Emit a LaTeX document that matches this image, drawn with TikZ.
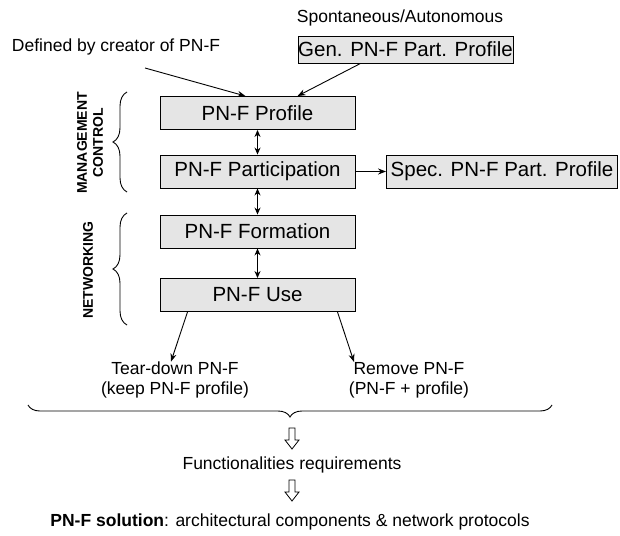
\documentclass[tikz,border=0pt]{standalone}
\usepackage{fontspec}
\setmainfont{Liberation Sans}
\usetikzlibrary{arrows.meta,decorations.pathreplacing,calc}
\begin{document}
\begin{tikzpicture}[x=1pt,y=-1pt,
  boxnode/.style={draw=black,line width=0.9pt,fill=gray!20,inner sep=0pt,
    font=\fontsize{20.5}{24}\selectfont},
  lbl/.style={font=\fontsize{17.5}{20}\selectfont,inner sep=0pt,align=center},
  vlbl/.style={font=\bfseries\fontsize{14}{16}\selectfont,rotate=90,inner sep=0pt,align=center},
  arr/.style={line width=0.9pt,-{Stealth[length=8pt,width=6pt]}},
  darr/.style={line width=0.9pt,{Stealth[length=7pt,width=6pt]}-{Stealth[length=7pt,width=6pt]}},
  brc/.style={line width=0.9pt,decorate,decoration={brace,amplitude=#1}},
  hollow/.style={draw=black,line width=0.8pt,fill=white}
]
\useasboundingbox (0,0) rectangle (620,535);

% top labels and boxes
\node[lbl] (spont) at (400,18) {Spontaneous/Autonomous};
\node[boxnode,minimum width=215,minimum height=27] (gen) at (405.5,49.5) {Gen. PN-F Part. Profile};
\node[lbl] (def) at (116,47) {Defined by creator of PN-F};
\coordinate (defend) at (145,68);

% main column
\node[boxnode,minimum width=195,minimum height=33] (prof) at (257.5,113) {PN-F Profile};
\node[boxnode,minimum width=195,minimum height=33] (part) at (257.5,171.5) {PN-F Participation};
\node[boxnode,minimum width=195,minimum height=33] (form) at (257.5,231.5) {PN-F Formation};
\node[boxnode,minimum width=195,minimum height=33] (use) at (257.5,295) {PN-F Use};
\node[boxnode,minimum width=231,minimum height=33] (spec) at (502,171.5) {Spec. PN-F Part. Profile};

\draw[arr] (defend) -- ([xshift=-12]prof.north);
\draw[arr] ([xshift=-45]gen.south) -- ([xshift=40]prof.north);
\draw[darr] (prof) -- (part);
\draw[darr] (part) -- (form);
\draw[darr] (form) -- (use);
\draw[arr] (part) -- (spec);

% side braces and labels
\draw[brc=14] (127,192) -- (127,92);
\node[vlbl] (mgmt) at (90,143) {MANAGEMENT\\CONTROL};
\draw[brc=14] (127,325) -- (127,213);
\node[vlbl] (netw) at (88,270) {NETWORKING};

% outcomes
\node[lbl] (tear) at (175,380) {Tear-down PN-F\\(keep PN-F profile)};
\node[lbl] (remv) at (409,380) {Remove PN-F\\(PN-F + profile)};
\draw[arr] ([xshift=-70]use.south) -- ([xshift=-4]tear.north);
\draw[arr] ([xshift=80]use.south) -- ([xshift=-55]remv.north);

% big brace
\draw[brc=12] (552,405) -- (28,405);

% hollow arrows and final texts
\coordinate (h1) at (292,428);
\draw[hollow] (h1) ++(-3,0) -- ++(0,12) -- ++(-4,0) -- ++(7,9) -- ++(7,-9) -- ++(-4,0) -- ++(0,-12) -- cycle;
\node[lbl] (func) at (292,465) {Functionalities requirements};
\coordinate (h2) at (292,480);
\draw[hollow] (h2) ++(-3,0) -- ++(0,12) -- ++(-4,0) -- ++(7,9) -- ++(7,-9) -- ++(-4,0) -- ++(0,-12) -- cycle;
\node[lbl] (sol) at (290,522) {\textbf{PN-F solution}: architectural components \& network protocols};
\end{tikzpicture}
\end{document}
